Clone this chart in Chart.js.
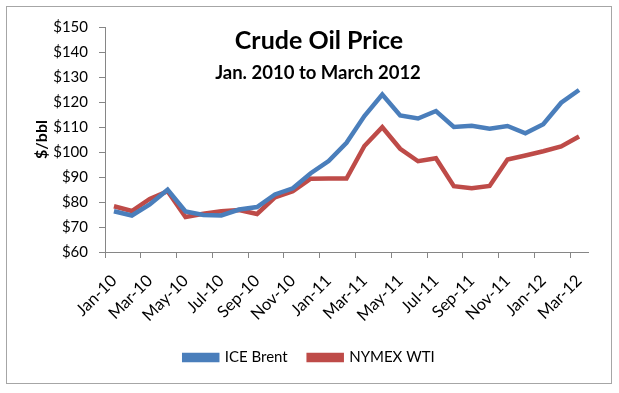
<!DOCTYPE html>
<html>
<head>
<meta charset="utf-8">
<script src="https://cdn.jsdelivr.net/npm/chart.js@4"></script>
<style>
html,body{margin:0;padding:0;background:#fff;}
#wrap{position:relative;width:619px;height:393px;}
</style>
</head>
<body>
<div id="wrap"><canvas id="c" width="619" height="393"></canvas></div>
<script>
const months = ['Jan-10','Feb-10','Mar-10','Apr-10','May-10','Jun-10','Jul-10','Aug-10','Sep-10','Oct-10','Nov-10','Dec-10',
  'Jan-11','Feb-11','Mar-11','Apr-11','May-11','Jun-11','Jul-11','Aug-11','Sep-11','Oct-11','Nov-11','Dec-11',
  'Jan-12','Feb-12','Mar-12'];
const brent = [76.3,74.6,79.0,84.9,76.2,74.8,74.6,77.0,78.0,83.0,85.5,91.5,96.4,103.7,114.4,123.0,114.6,113.4,116.4,110.0,110.5,109.3,110.4,107.5,111.1,119.7,124.8];
const wti = [78.3,76.4,81.2,84.3,74.0,75.3,76.3,76.8,75.2,81.9,84.3,89.3,89.4,89.4,102.4,109.9,101.3,96.3,97.5,86.3,85.5,86.4,97.0,98.6,100.3,102.2,106.2];
const yTicks = {min:60, max:150, step:10};
const titleText = 'Crude Oil Price';
const subtitleText = 'Jan. 2010 to March 2012';
const yTitle = '$/bbl';

const FONT = "Lato, 'Open Sans', 'DejaVu Sans', sans-serif";

const frame = {
  id:'frame',
  beforeDraw(chart){
    const ctx = chart.ctx;
    ctx.save();
    ctx.fillStyle='#fff';
    ctx.fillRect(0,0,chart.width,chart.height);
    ctx.strokeStyle='#a6a6a6';
    ctx.lineWidth=1;
    ctx.strokeRect(6.5,6.5,605,377);
    ctx.restore();
  },
  afterDraw(chart){
    const ctx = chart.ctx;
    ctx.save();
    ctx.fillStyle='#000';
    ctx.textAlign='center';
    ctx.textBaseline='middle';
    ctx.font = "bold 25px " + FONT;
    ctx.fillText(titleText, 319, 41);
    ctx.font = "bold 18.5px " + FONT;
    ctx.fillText(subtitleText, 318, 73);
    ctx.restore();
  }
};

new Chart(document.getElementById('c'), {
  type:'line',
  data:{
    labels: months,
    datasets:[
      {label:'ICE Brent', data:brent, borderColor:'#4A7EBB', backgroundColor:'#4A7EBB', borderWidth:4.5, pointRadius:0, tension:0},
      {label:'NYMEX WTI', data:wti, borderColor:'#BE4B48', backgroundColor:'#BE4B48', borderWidth:4.5, pointRadius:0, tension:0}
    ]
  },
  options:{
    responsive:false,
    animation:false,
    devicePixelRatio:1,
    layout:{padding:{left:31, top:27, right:31, bottom:18}},
    plugins:{
      legend:{
        position:'bottom',
        labels:{boxWidth:33, boxHeight:5, padding:21, color:'#000', font:{family:FONT, size:15}}
      },
      tooltip:{enabled:false}
    },
    scales:{
      x:{
        type:'category',
        offset:true,
        grid:{offset:true, drawOnChartArea:false, tickLength:6,
          color:(c)=> (c.index!==undefined && c.index%2===0) ? '#868686' : 'rgba(0,0,0,0)'},
        border:{display:true, color:'#868686', width:1},
        ticks:{autoSkip:false, minRotation:45, maxRotation:45, padding:13, color:'#000', font:{family:FONT, size:16.5},
          callback:function(v, i){ return i%2===0 ? this.getLabelForValue(v) : ''; }},
        afterFit(s){ s.height = 77; }
      },
      y:{
        min:yTicks.min, max:yTicks.max,
        grid:{drawOnChartArea:false, tickLength:6, color:'#868686'},
        border:{display:true, color:'#868686', width:1},
        ticks:{stepSize:yTicks.step, padding:11, color:'#000', font:{family:FONT, size:15},
          callback:(v)=>'$'+v},
        title:{display:true, text:yTitle, color:'#000', font:{family:FONT, size:16, weight:'bold'}, padding:{top:1,bottom:0}},
        afterFit(s){ s.width = 74; }
      }
    }
  },
  plugins:[frame]
});
</script>
</body>
</html>
